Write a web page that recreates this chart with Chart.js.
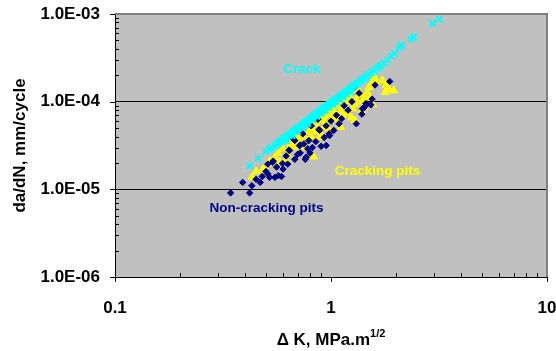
<!DOCTYPE html>
<html>
<head>
<meta charset="utf-8">
<script src="https://cdn.jsdelivr.net/npm/chart.js@4/dist/chart.umd.min.js"></script>
<style>
html, body { margin: 0; padding: 0; background: #fff; }
#wrap { width: 556px; height: 351px; }
</style>
</head>
<body>
<div id="wrap"><canvas id="fcgChart"></canvas></div>
<script>
// Crack (cyan x marks)
var crackK = [0.42, 0.46, 0.50, 0.52, 0.53, 0.55, 0.56, 0.57, 0.58, 0.59, 0.60, 0.61, 0.62, 0.63, 0.64,
    0.65, 0.66, 0.67, 0.68, 0.69, 0.70, 0.71, 0.72, 0.73, 0.74, 0.75, 0.76, 0.77, 0.78, 0.79,
    0.80, 0.81, 0.82, 0.83, 0.84, 0.85, 0.86, 0.87, 0.88, 0.89, 0.90, 0.91, 0.92, 0.93, 0.94,
    0.95, 0.96, 0.97, 0.98, 0.99, 1.00, 1.01, 1.02, 1.03, 1.04, 1.05, 1.06, 1.08, 1.09, 1.10,
    1.12, 1.13, 1.15, 1.17, 1.19, 1.21, 1.23, 1.25, 1.27, 1.29, 1.31, 1.34, 1.37, 1.40, 1.43,
    1.46, 1.50, 1.54, 1.58, 1.62, 1.66, 1.70, 1.76, 1.82, 1.90, 1.97, 2.07, 2.12, 2.35, 2.42,
    2.95, 3.17,
    0.62, 0.66, 0.70, 0.74, 0.78, 0.82, 0.86, 0.90, 0.94, 0.98, 1.02, 1.06, 1.10, 1.14, 1.18, 1.22];
var crackRate = [1.85e-5, 2.25e-5, 2.7e-5, 2.85e-5, 3.0e-5, 3.1e-5, 3.3e-5, 3.35e-5, 3.5e-5, 3.6e-5, 3.7e-5, 3.85e-5, 3.9e-5, 4.1e-5, 4.15e-5,
    4.3e-5, 4.4e-5, 4.6e-5, 4.65e-5, 4.8e-5, 4.95e-5, 5.0e-5, 5.2e-5, 5.35e-5, 5.4e-5, 5.6e-5, 5.75e-5, 5.85e-5, 6.0e-5, 6.2e-5,
    6.3e-5, 6.5e-5, 6.6e-5, 6.8e-5, 6.95e-5, 7.1e-5, 7.2e-5, 7.4e-5, 7.6e-5, 7.7e-5, 7.9e-5, 8.1e-5, 8.2e-5, 8.4e-5, 8.6e-5,
    8.7e-5, 8.9e-5, 9.1e-5, 9.2e-5, 9.4e-5, 9.6e-5, 9.8e-5, 9.9e-5, 1.01e-4, 1.03e-4, 1.05e-4, 1.07e-4, 1.1e-4, 1.12e-4, 1.14e-4,
    1.18e-4, 1.2e-4, 1.24e-4, 1.28e-4, 1.32e-4, 1.36e-4, 1.41e-4, 1.45e-4, 1.5e-4, 1.54e-4, 1.59e-4, 1.66e-4, 1.73e-4, 1.8e-4, 1.87e-4,
    1.95e-4, 2.05e-4, 2.15e-4, 2.25e-4, 2.37e-4, 2.48e-4, 2.6e-4, 2.75e-4, 3.0e-4, 3.3e-4, 3.55e-4, 4.15e-4, 4.4e-4, 5.2e-4, 5.5e-4,
    7.8e-4, 8.7e-4,
    3.6e-5, 4.1e-5, 4.6e-5, 5.1e-5, 5.6e-5, 6.2e-5, 6.8e-5, 7.4e-5, 8.0e-5, 8.6e-5, 9.3e-5, 1.0e-4, 1.07e-4, 1.14e-4, 1.22e-4, 1.3e-4];

// Cracking pits (yellow triangles)
var pitCrackK = [0.43, 0.45, 0.485, 0.50, 0.535, 0.55, 0.60, 0.62, 0.63, 0.65, 0.69, 0.72, 0.76, 0.79, 0.83,
    0.82, 0.85, 0.90, 0.90, 0.93, 0.97, 1.00, 1.05, 1.07, 1.11, 1.17, 1.22, 1.24, 1.29, 1.34,
    1.39, 1.44, 1.50, 1.56, 1.59, 1.55, 1.73, 1.78, 1.85, 1.95, 1.29, 1.11, 1.42,
    0.74, 0.78, 0.81, 0.86, 0.88, 0.92, 0.95, 0.98, 1.02, 1.04, 1.08, 1.13, 1.15, 1.19, 1.20,
    1.26, 1.31, 1.36, 1.40, 1.47, 1.52, 1.62, 1.80, 0.57, 0.67, 0.70, 0.58, 0.52];
var pitCrackRate = [1.37e-5, 1.6e-5, 1.7e-5, 1.65e-5, 1.98e-5, 2.3e-5, 2.9e-5, 2.16e-5, 2.5e-5, 3.3e-5, 3.75e-5, 3.9e-5, 3.0e-5, 4.5e-5, 2.36e-5,
    4.9e-5, 5.6e-5, 6.1e-5, 4.3e-5, 5.1e-5, 6.9e-5, 7.2e-5, 9.0e-5, 6.1e-5, 7.9e-5, 1.07e-4, 1.17e-4, 6.6e-5, 9.4e-5, 1.33e-4,
    7.9e-5, 1.12e-4, 1.46e-4, 9.4e-5, 1.9e-4, 1.6e-4, 1.74e-4, 1.28e-4, 1.4e-4, 1.34e-4, 6.1e-5, 5.1e-5, 8.6e-5,
    4.1e-5, 3.6e-5, 4.0e-5, 4.6e-5, 3.9e-5, 6.5e-5, 5.6e-5, 4.8e-5, 8.1e-5, 6.5e-5, 9.6e-5, 6.9e-5, 8.9e-5, 7.4e-5, 1.0e-4,
    8.3e-5, 1.05e-4, 1.2e-4, 1.0e-4, 1.28e-4, 1.1e-4, 1.65e-4, 1.55e-4, 2.6e-5, 3.0e-5, 3.4e-5, 2.05e-5, 2.1e-5];

// Non-cracking pits (navy diamonds)
var pitNonK = [0.343, 0.42, 0.39, 0.43, 0.47, 0.48, 0.51, 0.52, 0.55, 0.57, 0.59, 0.51, 0.54, 0.60, 0.63,
    0.66, 0.68, 0.72, 0.75, 0.76, 0.79, 0.80, 0.82, 0.87, 0.90, 0.93, 0.98, 1.03, 1.09, 1.15,
    1.29, 1.31, 1.39, 1.47, 1.55, 1.87, 1.53, 0.74, 0.68,
    0.45, 0.50, 0.56, 0.62, 0.64, 0.70, 0.72, 0.78, 0.85, 0.88, 0.95, 1.00, 1.06, 1.12, 1.20,
    1.25, 1.35, 1.42, 1.60,
    0.885, 0.985, 0.95, 0.768, 0.642, 0.596, 0.715, 0.537, 0.866, 0.81, 1.40, 1.45];
var pitNonRate = [9.1e-6, 9.1e-6, 1.2e-5, 1.1e-5, 1.2e-5, 1.4e-5, 1.5e-5, 1.37e-5, 1.37e-5, 1.43e-5, 1.4e-5, 1.94e-5, 2.1e-5, 1.7e-5, 1.94e-5,
    3.9e-5, 2.2e-5, 2.6e-5, 3.3e-5, 2.2e-5, 3.6e-5, 2.6e-5, 3.0e-5, 6.3e-5, 3.1e-5, 3.9e-5, 4.3e-5, 4.7e-5, 5.6e-5, 9.0e-5,
    1.46e-4, 5.6e-5, 7.2e-5, 9.4e-5, 1.07e-4, 1.7e-4, 9.2e-5, 4.3e-5, 3.6e-5,
    1.3e-5, 1.6e-5, 1.8e-5, 2.4e-5, 2.8e-5, 2.5e-5, 3.2e-5, 2.9e-5, 3.5e-5, 4.8e-5, 5.3e-5, 6.0e-5, 7.0e-5, 6.4e-5, 8.0e-5,
    1.0e-4, 1.25e-4, 8.5e-5, 1.55e-4,
    4.7e-5, 4.1e-5, 3.16e-5, 2.33e-5, 2.77e-5, 1.97e-5, 3.16e-5, 2.04e-5, 6.4e-5, 5.3e-5, 8.3e-5, 9.5e-5];

var xTicks = [0.1, 1, 10];
var yTicks = [1e-6, 1e-5, 1e-4, 1e-3];

var seriesNotes = [
    { text: 'Crack', k: 0.734, rate: 2.34e-4, color: '#00FFFF' },
    { text: 'Cracking pits', k: 1.64, rate: 1.6e-5, color: '#FFFF00' },
    { text: 'Non-cracking pits', k: 0.503, rate: 6.08e-6, color: '#000080' }
];

function toPoints(xs, ys) {
    return xs.map(function (v, i) { return { x: v, y: ys[i] }; });
}

function isDecade(v) {
    var l = Math.log10(v);
    return Math.abs(l - Math.round(l)) < 1e-6;
}

function sciLabel(v) {
    var e = Math.round(Math.log10(v));
    var s = Math.abs(e) < 10 ? '0' + Math.abs(e) : '' + Math.abs(e);
    return '1.0E' + (e < 0 ? '-' : '+') + s;
}

var FONT = '"Liberation Sans", Arial, sans-serif';

var decorPlugin = {
    id: 'decor',
    beforeDraw: function (chart) {
        var ctx = chart.ctx, a = chart.chartArea;
        ctx.save();
        ctx.fillStyle = '#C0C0C0';
        ctx.fillRect(a.left, a.top, a.right - a.left, a.bottom - a.top);
        ctx.restore();
    },
    afterDraw: function (chart) {
        var ctx = chart.ctx, a = chart.chartArea;
        var x = chart.scales.x, y = chart.scales.y;
        ctx.save();

        ctx.strokeStyle = '#808080';
        ctx.lineWidth = 2;
        ctx.beginPath();
        ctx.moveTo(a.left, a.top);
        ctx.lineTo(a.right, a.top);
        ctx.lineTo(a.right, a.bottom);
        ctx.stroke();

        // tick marks: major outward, minor inward
        ctx.strokeStyle = '#000';
        ctx.lineWidth = 1;
        ctx.beginPath();
        var e, m, v, p;
        for (e = -6; e <= -3; e++) {
            for (m = 1; m <= 9; m++) {
                v = m * Math.pow(10, e);
                if (v > y.max * 1.0001) break;
                p = Math.round(y.getPixelForValue(v)) + 0.5;
                if (m === 1) { ctx.moveTo(a.left - 5, p); ctx.lineTo(a.left, p); }
                else { ctx.moveTo(a.left, p); ctx.lineTo(a.left + 4, p); }
            }
        }
        for (e = -1; e <= 1; e++) {
            for (m = 1; m <= 9; m++) {
                v = m * Math.pow(10, e);
                if (v > x.max * 1.0001) break;
                p = Math.round(x.getPixelForValue(v)) + 0.5;
                if (m === 1) { ctx.moveTo(p, a.bottom); ctx.lineTo(p, a.bottom + 5); }
                else { ctx.moveTo(p, a.bottom); ctx.lineTo(p, a.bottom - 4); }
            }
        }
        ctx.stroke();

        // series notes inside the plot
        ctx.font = 'bold 13.5px ' + FONT;
        ctx.textAlign = 'center';
        ctx.textBaseline = 'middle';
        seriesNotes.forEach(function (n) {
            ctx.fillStyle = n.color;
            ctx.fillText(n.text, x.getPixelForValue(n.k), y.getPixelForValue(n.rate));
        });

        // y title
        ctx.fillStyle = '#000';
        ctx.font = 'bold 17px ' + FONT;
        ctx.save();
        ctx.translate(20, (a.top + a.bottom) / 2);
        ctx.rotate(-Math.PI / 2);
        ctx.fillText('da/dN, mm/cycle', 0, 0);
        ctx.restore();

        // x title with superscript
        var main = '\u0394 K, MPa.m', sup = '1/2';
        ctx.font = 'bold 17px ' + FONT;
        var w1 = ctx.measureText(main).width;
        ctx.font = 'bold 11px ' + FONT;
        var w2 = ctx.measureText(sup).width;
        var cx = (a.left + a.right) / 2;
        var sx = cx - (w1 + w2) / 2;
        ctx.textAlign = 'left';
        ctx.textBaseline = 'alphabetic';
        ctx.font = 'bold 17px ' + FONT;
        ctx.fillText(main, sx, 345);
        ctx.font = 'bold 11px ' + FONT;
        ctx.fillText(sup, sx + w1, 337);

        ctx.restore();
    }
};

var ctx = document.getElementById('fcgChart').getContext('2d');
new Chart(ctx, {
    type: 'scatter',
    data: {
        datasets: [{
            label: 'Crack',
            data: toPoints(crackK, crackRate),
            pointStyle: 'crossRot',
            pointRadius: 4.5,
            borderWidth: 2,
            borderColor: '#00FFFF',
            backgroundColor: '#00FFFF',
            order: 0
        }, {
            label: 'Non-cracking pits',
            data: toPoints(pitNonK, pitNonRate),
            pointStyle: 'rectRot',
            pointRadius: 3.2,
            borderWidth: 1,
            borderColor: '#000080',
            backgroundColor: '#000080',
            order: 1
        }, {
            label: 'Cracking pits',
            data: toPoints(pitCrackK, pitCrackRate),
            pointStyle: 'triangle',
            pointRadius: 4.5,
            borderWidth: 1,
            borderColor: '#FFFF00',
            backgroundColor: '#FFFF00',
            order: 2
        }]
    },
    options: {
        responsive: true,
        maintainAspectRatio: false,
        animation: false,
        events: [],
        layout: { padding: { left: 0, right: 9, top: 14, bottom: 0 } },
        plugins: { legend: { display: false }, tooltip: { enabled: false } },
        scales: {
            x: {
                type: 'logarithmic',
                min: 0.1,
                max: 10,
                afterFit: function (s) {
                    s.height = 74;
                    s.paddingLeft = 0; s.paddingRight = 0;
                },
                afterBuildTicks: function (s) { s.ticks = xTicks.map(function (v) { return { value: v }; }); },
                grid: { display: false, drawTicks: false },
                border: { display: true, color: '#000', width: 1 },
                ticks: {
                    autoSkip: false,
                    maxRotation: 0,
                    padding: 21,
                    color: '#000',
                    font: { family: FONT, size: 17, weight: 'bold' },
                    callback: function (v) { return isDecade(v) ? String(v) : ''; }
                }
            },
            y: {
                type: 'logarithmic',
                min: 1e-6,
                max: 1e-3,
                afterFit: function (s) {
                    s.width = 115;
                    s.paddingTop = 0; s.paddingBottom = 0;
                },
                afterBuildTicks: function (s) { s.ticks = yTicks.map(function (v) { return { value: v }; }); },
                grid: {
                    drawTicks: false,
                    color: function (c) {
                        var v = c.tick && c.tick.value;
                        return (v && isDecade(v) && v < 9e-4 && v > 2e-6) ? '#000' : 'rgba(0,0,0,0)';
                    }
                },
                border: { display: true, color: '#000', width: 1 },
                ticks: {
                    autoSkip: false,
                    padding: 15,
                    color: '#000',
                    font: { family: FONT, size: 17, weight: 'bold' },
                    callback: function (v) { return isDecade(v) ? sciLabel(v) : ''; }
                }
            }
        }
    },
    plugins: [decorPlugin]
});
</script>
</body>
</html>
